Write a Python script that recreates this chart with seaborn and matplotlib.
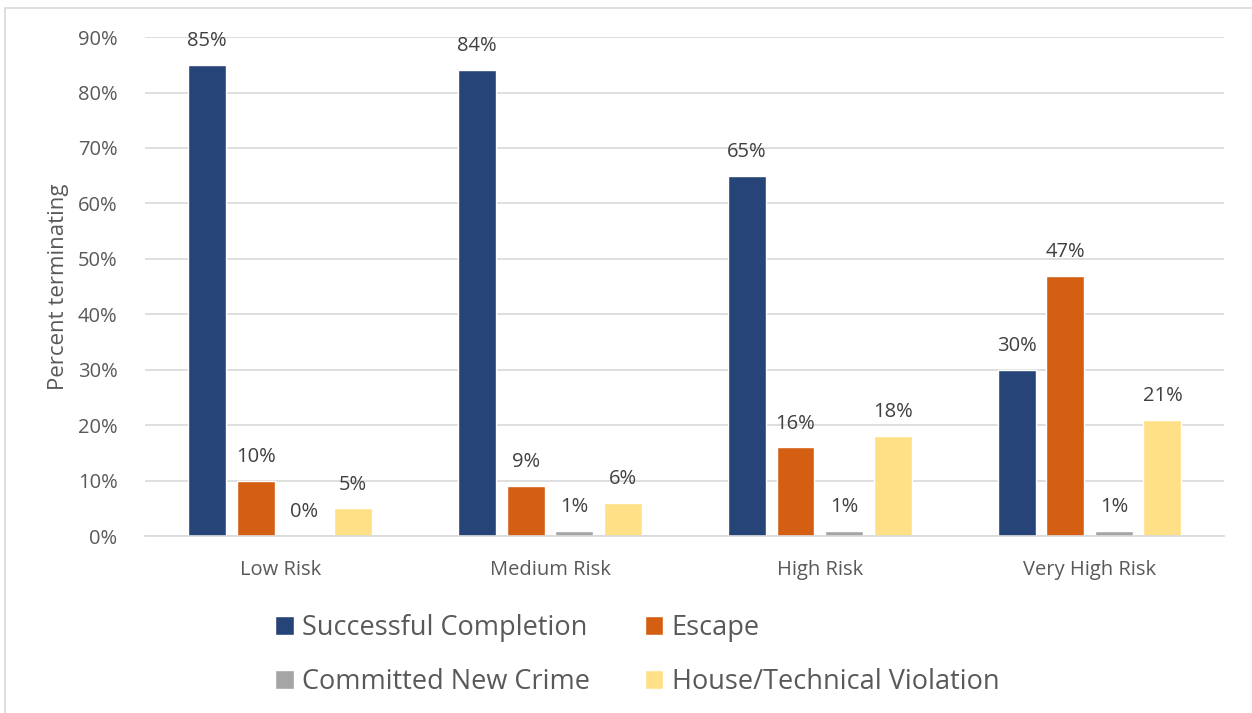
import matplotlib
matplotlib.use("Agg")
import matplotlib.pyplot as plt
from matplotlib.patches import Rectangle
import seaborn as sns
import pandas as pd

risk_levels = ["Low Risk", "Medium Risk", "High Risk", "Very High Risk"]
outcomes = ["Successful Completion", "Escape", "Committed New Crime", "House/Technical Violation"]
successful = [85, 84, 65, 30]
escape = [10, 9, 16, 47]
new_crime = [0, 1, 1, 1]
violation = [5, 6, 18, 21]
colors = ["#264478", "#D45F13", "#A5A5A5", "#FFE086"]

rows = []
for name, vals in zip(outcomes, [successful, escape, new_crime, violation]):
    for lvl, v in zip(risk_levels, vals):
        rows.append({"risk": lvl, "outcome": name, "pct": v / 100})
df = pd.DataFrame(rows)

sns.set_style("white")
plt.rcParams['font.family'] = ['Open Sans', 'DejaVu Sans']
txt = "#595959"

fig = plt.figure(figsize=(12.52, 7.13), dpi=100)
ax = fig.add_axes([0.116, 0.248, 0.862, 0.700])
sns.barplot(data=df, x="risk", y="pct", hue="outcome", hue_order=outcomes,
            order=risk_levels, palette=colors, width=0.72, gap=0.22,
            saturation=1, ax=ax, legend=True)

for cont in ax.containers:
    ax.bar_label(cont, labels=[f"{v*100:.0f}%" for v in cont.datavalues],
                 padding=10, fontsize=14.5, color="#404040")

ax.set_ylim(0, 0.9)
ax.set_yticks([i / 10 for i in range(10)])
ax.set_yticklabels([f"{i*10}%" for i in range(10)])
ax.set_xlim(-0.5, 3.5)
ax.grid(axis="y", color="#D9D9D9", linewidth=1.2)
ax.set_axisbelow(True)
for s in ["top", "right", "left"]:
    ax.spines[s].set_visible(False)
ax.spines["bottom"].set_color("#D9D9D9")
ax.spines["bottom"].set_linewidth(1.2)
ax.tick_params(axis="both", length=0, labelsize=14.5, colors=txt)
ax.tick_params(axis="x", pad=17)
ax.tick_params(axis="y", pad=20)
ax.set_xlabel("")
ax.set_ylabel("Percent terminating", fontsize=16, color=txt, labelpad=6)

handles, labels = ax.get_legend_handles_labels()
ax.get_legend().remove()
order = [0, 2, 1, 3]
fig.legend([handles[i] for i in order], [labels[i] for i in order],
           loc="center", bbox_to_anchor=(0.509, 0.081), ncol=2, frameon=False,
           fontsize=19.5, labelcolor=txt, handlelength=0.7, handleheight=0.7,
           handletextpad=0.3, columnspacing=2.0, labelspacing=0.95)

fig.patches.append(Rectangle((5 / 1252, -0.01), 1.0, 1 - 8 / 713 + 0.01,
                             transform=fig.transFigure, fill=False,
                             edgecolor="#D9D9D9", linewidth=1.2))

fig.savefig("out.png", dpi=100)
